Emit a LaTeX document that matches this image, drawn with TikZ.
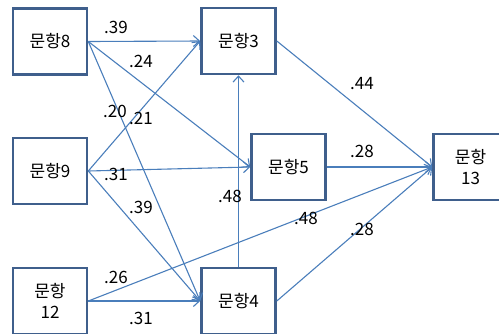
\documentclass[tikz,border=0pt]{standalone}
\usepackage{fontspec}
\setmainfont{Noto Sans CJK KR}
\usetikzlibrary{arrows.meta}
\definecolor{boxc}{HTML}{3F5F8C}
\definecolor{edgec}{HTML}{4A7EBB}
\begin{document}
\begin{tikzpicture}[x=1pt,y=-1pt,
  item/.style={draw=boxc,line width=2.6pt,fill=white,minimum width=74pt,minimum height=66pt,inner sep=0pt,align=center,font=\fontsize{17}{21}\selectfont},
  path/.style={draw=edgec,line width=1.1pt,-{Straight Barb[length=6pt,width=11pt,line width=1.1pt]}},
  coef/.style={font=\fontsize{17}{19}\selectfont,inner sep=0pt}]
\useasboundingbox (0,0) rectangle (499,333);
\node[item] (n8) at (50,41.5) {문항8};
\node[item] (n9) at (50,171) {문항9};
\node[item] (n12) at (50,301) {문항\\12};
\node[item] (n3) at (238.5,41) {문항3};
\node[item] (n5) at (288.5,167) {문항5};
\node[item] (n4) at (238.5,301) {문항4};
\node[item] (n13) at (470.5,167) {문항\\13};
\draw[path] (n8.east) -- (n3.west);
\draw[path] (n8.east) -- (n5.west);
\draw[path] (n8.east) -- (n4.west);
\draw[path] (n9.east) -- (n3.west);
\draw[path] (n9.east) -- (n5.west);
\draw[path] (n9.east) -- (n4.west);
\draw[path] (n12.east) -- (n4.west);
\draw[path] (n12.east) -- (n13.west);
\draw[path] (n4.north) -- (n3.south);
\draw[path] (n4.east) -- (n13.west);
\draw[path] (n3.east) -- (n13.west);
\draw[path] (n5.east) -- (n13.west);
\node[coef] (l1) at (116,27) {.39};
\node[coef] (l2) at (141,61) {.24};
\node[coef] (l3) at (115,111) {.20};
\node[coef] (l4) at (141,118) {.21};
\node[coef] (l5) at (116,174) {.31};
\node[coef] (l6) at (141,207) {.39};
\node[coef] (l7) at (230,196) {.48};
\node[coef] (l8) at (116,277) {.26};
\node[coef] (l9) at (141,318) {.31};
\node[coef] (l10) at (306,218) {.48};
\node[coef] (l11) at (362,229) {.28};
\node[coef] (l12) at (362,84) {.44};
\node[coef] (l13) at (362,151) {.28};
\end{tikzpicture}
\end{document}
